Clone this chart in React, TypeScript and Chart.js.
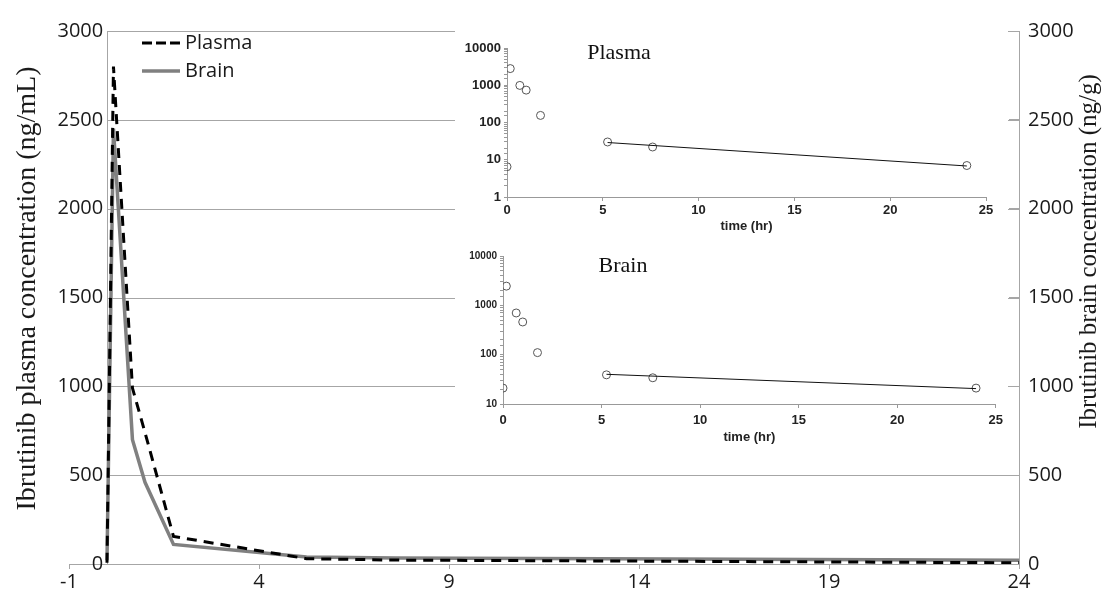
import React, { useEffect, useRef } from 'react';
import { Chart, registerables } from 'chart.js';

Chart.register(...registerables);

// ---- data ----
const timeHours = [0, 0.17, 0.67, 1, 1.75, 5.25, 7.6, 24];
const plasmaConc = [6.5, 2800, 990, 740, 155, 30, 22, 7];
const brainConc = [21, 2450, 700, 460, 110, 39, 34, 21];

// terminal-phase fit lines shown in the insets
const fitTime = [5.25, 24];
const plasmaFitConc = [29, 6.8];
const brainFitConc = [40, 20.5];

const mainXTicks = [-1, 4, 9, 14, 19, 24];
const mainYTicks = [0, 500, 1000, 1500, 2000, 2500, 3000];
const insetXTicks = [0, 5, 10, 15, 20, 25];
const plasmaInsetYTicks = [1, 10, 100, 1000, 10000];
const brainInsetYTicks = [10, 100, 1000, 10000];

const seriesLabels = ['Plasma', 'Brain'];
const leftTitle = 'Ibrutinib plasma concentration (ng/mL)';
const rightTitle = 'Ibrutinib brain concentration (ng/g)';
const insetXTitle = 'time (hr)';

const AXIS_GRAY = '#a6a6a6';
const TEXT = '#1a1a1a';
const SANS = "'Open Sans', 'Noto Sans', sans-serif";
const SERIF = "'Liberation Serif', 'DejaVu Serif', serif";
const ARIAL = "'Liberation Sans', Arial, sans-serif";

const toXY = (xs: number[], ys: number[]) => xs.map((x, i) => ({ x, y: ys[i] }));
const plain = (v: any) => String(v);

const partialGrid = {
  id: 'partialGrid',
  beforeDatasetsDraw(chart: any) {
    const { ctx, chartArea, scales } = chart;
    const x0 = scales.x.getPixelForValue(0);
    ctx.save();
    ctx.strokeStyle = AXIS_GRAY;
    ctx.lineWidth = 1;
    mainYTicks.forEach((v) => {
      if (v === 0) return;
      const py = Math.round(scales.y.getPixelForValue(v)) + 0.5;
      ctx.beginPath();
      ctx.moveTo(x0, py);
      ctx.lineTo(chartArea.right, py);
      ctx.stroke();
    });
    ctx.restore();
  },
};

const mainDecor = {
  id: 'mainDecor',
  afterDraw(chart: any) {
    const { ctx, chartArea } = chart;
    const midY = (chartArea.top + chartArea.bottom) / 2;
    ctx.save();
    ctx.fillStyle = TEXT;
    ctx.textAlign = 'center';
    ctx.textBaseline = 'middle';
    // left title
    ctx.save();
    ctx.font = `28px ${SERIF}`;
    ctx.translate(28, midY - 9);
    ctx.rotate(-Math.PI / 2);
    ctx.fillText(leftTitle, 0, 0);
    ctx.restore();
    // right title
    ctx.save();
    ctx.font = `25px ${SERIF}`;
    ctx.translate(1089, midY - 46);
    ctx.rotate(-Math.PI / 2);
    ctx.fillText(rightTitle, 0, 0);
    ctx.restore();

    // legend
    const ds = chart.data.datasets;
    const lx0 = 142, lx1 = 180, ly0 = 43, lgap = 28;
    ds.forEach((d: any, i: number) => {
      const y = ly0 + i * lgap;
      ctx.save();
      ctx.strokeStyle = d.borderColor;
      ctx.lineWidth = d.borderWidth;
      ctx.setLineDash(d.borderDash ? [10, 4] : []);
      ctx.beginPath();
      ctx.moveTo(lx0, y);
      ctx.lineTo(lx1, y);
      ctx.stroke();
      ctx.restore();
      ctx.fillStyle = TEXT;
      ctx.font = `20px ${SANS}`;
      ctx.textAlign = 'left';
      ctx.textBaseline = 'middle';
      ctx.fillText(d.label, lx1 + 5, y);
    });
    ctx.restore();
  },
};

const insetTitle = (text: string, cx: number, cy: number) => ({
  id: 'insetTitle',
  afterDraw(chart: any) {
    const { ctx } = chart;
    ctx.save();
    ctx.fillStyle = '#111';
    ctx.font = `22px ${SERIF}`;
    ctx.textAlign = 'center';
    ctx.textBaseline = 'middle';
    ctx.fillText(text, cx, cy);
    ctx.restore();
  },
});

const isPow10 = (v: number) => {
  const l = Math.log10(v);
  return Math.abs(l - Math.round(l)) < 1e-9;
};

function makeInset(
  canvas: HTMLCanvasElement,
  conc: number[],
  fitConc: number[],
  yMin: number,
  yTicks: number[],
  title: string,
  titlePos: [number, number],
  pad: { left: number; right: number; top: number; bottom: number },
  yWidth: number,
  xHeight: number,
  yFontSize: number,
  xTickPad: number,
  xTitlePadBottom: number
) {
  return new Chart(canvas, {
    type: 'scatter',
    data: {
      datasets: [
        {
          type: 'line',
          data: toXY(fitTime, fitConc),
          borderColor: '#111',
          borderWidth: 1,
          pointRadius: 0,
          fill: false,
        } as any,
        {
          type: 'scatter',
          data: toXY(timeHours, conc),
          pointRadius: 4,
          pointStyle: 'circle',
          borderColor: '#555',
          backgroundColor: 'rgba(255,255,255,0)',
          borderWidth: 1,
        },
      ],
    },
    options: {
      responsive: false,
      animation: false,
      devicePixelRatio: 1,
      layout: { padding: pad },
      plugins: { legend: { display: false }, tooltip: { enabled: false } },
      scales: {
        x: {
          type: 'linear',
          min: 0,
          max: 25,
          afterBuildTicks: (s: any) => {
            s.ticks = insetXTicks.map((v) => ({ value: v }));
          },
          afterFit: (s: any) => {
            s.height = xHeight;
          },
          grid: { drawOnChartArea: false, drawTicks: true, tickLength: 4, color: '#999' },
          border: { color: '#999' },
          ticks: {
            font: { family: ARIAL, size: 13, weight: 'bold' },
            color: '#222',
            padding: xTickPad,
            maxRotation: 0,
            autoSkip: false,
            callback: plain,
          },
          title: {
            display: true,
            text: insetXTitle,
            color: '#222',
            font: { family: ARIAL, size: 13, weight: 'bold' },
            padding: { top: 0, bottom: xTitlePadBottom },
          },
        },
        y: {
          type: 'logarithmic',
          min: yMin,
          max: 10000,
          afterFit: (s: any) => {
            s.width = yWidth;
          },
          grid: { drawOnChartArea: false, drawTicks: true, tickLength: 3, color: '#999' },
          border: { color: '#999' },
          ticks: {
            autoSkip: false,
            padding: 3,
            color: '#222',
            font: { family: ARIAL, size: yFontSize, weight: 'bold' },
            callback: (v: any) => (isPow10(Number(v)) && yTicks.includes(Number(v)) ? String(v) : ''),
          },
        },
      },
    } as any,
    plugins: [insetTitle(title, titlePos[0], titlePos[1])],
  });
}

export default function App() {
  const mainRef = useRef<HTMLCanvasElement>(null);
  const plasmaRef = useRef<HTMLCanvasElement>(null);
  const brainRef = useRef<HTMLCanvasElement>(null);

  useEffect(() => {
    const charts: Chart[] = [];
    if (mainRef.current) {
      charts.push(
        new Chart(mainRef.current, {
          type: 'line',
          data: {
            datasets: [
              {
                label: seriesLabels[0],
                data: toXY(timeHours, plasmaConc),
                borderColor: '#000',
                borderWidth: 3,
                borderDash: [10, 7],
                pointRadius: 0,
                tension: 0,
                fill: false,
                yAxisID: 'y',
              },
              {
                label: seriesLabels[1],
                data: toXY(timeHours, brainConc),
                borderColor: '#808080',
                borderWidth: 3.5,
                pointRadius: 0,
                tension: 0,
                fill: false,
                yAxisID: 'y2',
              },
            ],
          },
          options: {
            responsive: false,
            animation: false,
            devicePixelRatio: 1,
            layout: { padding: { left: 69, top: 20, right: 0, bottom: 0 } },
            plugins: { legend: { display: false }, tooltip: { enabled: false } },
            scales: {
              x: {
                type: 'linear',
                position: 'bottom',
                min: -1,
                max: 24,
                afterBuildTicks: (s: any) => {
                  s.ticks = mainXTicks.map((v) => ({ value: v }));
                },
                afterFit: (s: any) => {
                  s.height = 29;
                },
                grid: { drawOnChartArea: false, drawTicks: true, tickLength: 5, color: AXIS_GRAY },
                border: { color: AXIS_GRAY },
                ticks: {
                  font: { family: SANS, size: 20 },
                  color: TEXT,
                  padding: 1,
                  maxRotation: 0,
                  autoSkip: false,
                  callback: plain,
                },
              },
              y: {
                type: 'linear',
                position: { x: 0 },
                min: 0,
                max: 3000,
                ticks: { display: false, stepSize: 500 },
                grid: { display: true, drawOnChartArea: false, drawTicks: false },
                border: { display: true, color: AXIS_GRAY },
              },
              yl: {
                type: 'linear',
                position: { x: -0.1 },
                min: 0,
                max: 3000,
                afterBuildTicks: (s: any) => {
                  s.ticks = mainYTicks.map((v) => ({ value: v }));
                },
                ticks: { font: { family: SANS, size: 20 }, color: TEXT, autoSkip: false, callback: plain },
                grid: { display: false },
                border: { display: false },
              },
              y2: {
                type: 'linear',
                position: 'right',
                min: 0,
                max: 3000,
                afterBuildTicks: (s: any) => {
                  s.ticks = mainYTicks.map((v) => ({ value: v }));
                },
                afterFit: (s: any) => {
                  s.width = 85;
                },
                grid: { drawOnChartArea: false, drawTicks: true, tickLength: -10, color: AXIS_GRAY },
                border: { color: AXIS_GRAY },
                ticks: { font: { family: SANS, size: 20 }, color: TEXT, padding: 19, autoSkip: false, callback: plain },
              },
            },
          } as any,
          plugins: [partialGrid, mainDecor],
        })
      );
    }
    if (plasmaRef.current) {
      charts.push(
        makeInset(
          plasmaRef.current,
          plasmaConc,
          plasmaFitConc,
          1,
          plasmaInsetYTicks,
          'Plasma',
          [164, 31],
          { left: 0, right: 22, top: 26, bottom: 0 },
          52,
          43,
          13,
          2,
          6
        )
      );
    }
    if (brainRef.current) {
      charts.push(
        makeInset(
          brainRef.current,
          brainConc,
          brainFitConc,
          10,
          brainInsetYTicks,
          'Brain',
          [168, 26],
          { left: 0, right: 12, top: 16, bottom: 0 },
          48,
          51,
          10,
          5,
          10
        )
      );
    }
    return () => charts.forEach((c) => c.destroy());
  }, []);

  return (
    <div style={{ position: 'absolute', left: 0, top: 0, width: 1104, height: 595, background: '#fff' }}>
      <canvas
        ref={mainRef}
        width={1104}
        height={595}
        style={{ position: 'absolute', left: 0, top: 0, width: 1104, height: 595 }}
      />
      <canvas
        ref={plasmaRef}
        width={553}
        height={218}
        style={{ position: 'absolute', left: 455, top: 22, width: 553, height: 218, background: '#fff' }}
      />
      <canvas
        ref={brainRef}
        width={553}
        height={215}
        style={{ position: 'absolute', left: 455, top: 240, width: 553, height: 215, background: '#fff' }}
      />
    </div>
  );
}
